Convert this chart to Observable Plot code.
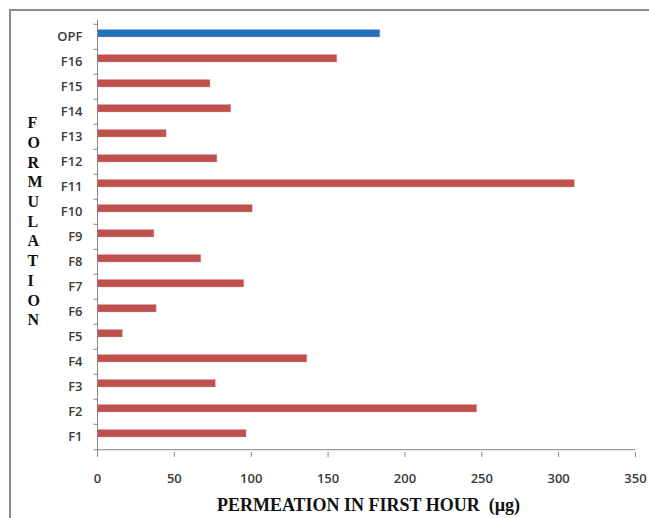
<!DOCTYPE html>
<html>
<head>
<meta charset="utf-8">
<script src="https://cdn.jsdelivr.net/npm/d3@7"></script>
<script src="https://cdn.jsdelivr.net/npm/@observablehq/plot@0.6"></script>
<style>
  html, body { margin: 0; padding: 0; background: #fff; }
  #wrap { position: relative; width: 649px; height: 518px; overflow: hidden; }
  #border {
    position: absolute; left: 9px; top: 9px; width: 700px; height: 600px;
    border-top: 2px solid #8c8c8c; border-left: 2px solid #8c8c8c;
  }
  #chart { position: absolute; left: 0; top: 0; }
  #chart svg { background: transparent; }
</style>
</head>
<body>
<div id="wrap">
  <div id="border"></div>
  <div id="chart"></div>
</div>
<script>
// Formulations, bottom (F1) to top (OPF)
const formulations = ["F1", "F2", "F3", "F4", "F5", "F6", "F7", "F8", "F9", "F10",
                      "F11", "F12", "F13", "F14", "F15", "F16", "OPF"];
// Amount permeated in the first hour (µg)
const permeation = [97, 247, 77, 136.5, 16.5, 38.5, 95.5, 67.5, 37, 101,
                    310.5, 78, 45, 87, 73.5, 156, 184];
const xTicks = [0, 50, 100, 150, 200, 250, 300, 350];
const xTitle = "PERMEATION IN FIRST HOUR\u00a0 (µg)";
const yTitle = "FORMULATION";

const data = formulations.map((f, i) => ({
  formulation: f,
  value: permeation[i],
  group: f === "OPF" ? "OPF" : "Formulation"
}));

const W = 649, H = 518;
const mL = 97, mR = 14, mT = 20, mB = 66;
const order = formulations.slice().reverse();
const band = (H - mT - mB) / order.length;
const axisGrey = "#868686";
const tickFont = "'Open Sans', sans-serif";

const chart = Plot.plot({
  width: W,
  height: H,
  marginLeft: mL,
  marginRight: mR,
  marginTop: mT,
  marginBottom: mB,
  style: { background: "transparent", fontFamily: tickFont },
  x: { domain: [0, 350], axis: null },
  y: { domain: order, padding: 0, axis: null },
  color: { domain: ["Formulation", "OPF"], range: ["#c0504d", "#1f70bd"] },
  marks: [
    Plot.barX(data, {
      x: "value", y: "formulation", fill: "group",
      insetTop: 5.5, insetBottom: 12,
      stroke: "#e6a3a1", strokeOpacity: 0.35, strokeWidth: 1
    }),
    // axis lines
    Plot.ruleX([0], { stroke: axisGrey, strokeWidth: 1 }),
    Plot.ruleY(["F1"], { stroke: axisGrey, strokeWidth: 1, dy: band / 2 }),
    // category tick marks on band boundaries
    Plot.ruleY(order, { x1: -2.2, x2: 0, stroke: axisGrey, dy: -band / 2 }),
    Plot.ruleY(["F1"], { x1: -2.2, x2: 0, stroke: axisGrey, dy: band / 2 }),
    Plot.axisY({
      tickSize: 0, tickPadding: 15, label: null,
      fontSize: 13, fontWeight: 600, fill: "#3a3a3a"
    }),
    Plot.axisX({
      ticks: xTicks, tickSize: 5, tickPadding: 16, label: null,
      stroke: axisGrey, fontSize: 13, fontWeight: 600, fill: "#3a3a3a"
    }),
    // axis titles
    Plot.text([xTitle], {
      frameAnchor: "bottom", lineAnchor: "middle", dy: 53, dx: 2,
      fontFamily: "'Liberation Serif', serif", fontWeight: "bold",
      fontSize: 18, fill: "#111"
    }),
    Plot.text([yTitle.split("").join("\n")], {
      frameAnchor: "left", lineAnchor: "middle", dx: -70, dy: -16,
      lineHeight: 1.23,
      fontFamily: "'Liberation Serif', serif", fontWeight: "bold",
      fontSize: 16, fill: "#111"
    })
  ]
});

document.getElementById("chart").appendChild(chart);
</script>
</body>
</html>
